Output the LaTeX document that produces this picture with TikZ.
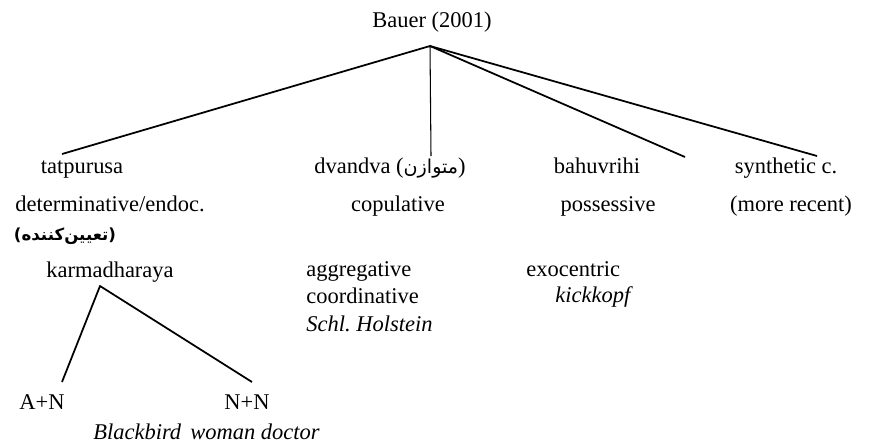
\documentclass[tikz,border=0pt]{standalone}
\usepackage{fontspec}
\setmainfont{Liberation Serif}
\newfontfamily\farsifont[Script=Arabic,Scale=0.85]{DejaVu Sans}
\newfontfamily\farsismall[Script=Arabic,Scale=0.74]{DejaVu Sans}
\newfontfamily\parenfont[Scale=0.74]{DejaVu Sans}
\TeXXeTstate=1

\begin{document}
\frenchspacing
\begin{tikzpicture}[x=0.02cm,y=-0.02cm,join=round, % compound classes tree
        every node/.style={inner sep=0pt,font=\fontsize{12.8}{15}\selectfont},
        lbl/.style={anchor=base},
        lft/.style={anchor=base west},
        example/.style={anchor=base west,font=\fontsize{12.8}{15}\selectfont\itshape},
        branch/.style={line width=1pt}]
        \useasboundingbox (0,0) rectangle (874,444);
        \node[lbl] (bauer) at (432,27) {Bauer (2001)};
        \coordinate (top) at (430,46);
        \node[lbl] (tatpurusa) at (82,173) {tatpurusa};
        \node[lbl] (dvandva) at (390,173) {dvandva ({\farsifont\beginR متوازن\endR})};
        \node[lbl] (bahuvrihi) at (597,173) {bahuvrihi};
        \node[lbl] (synthetic) at (786,173) {synthetic c.};
        \coordinate (tatpurusa-end) at (62,154);
        \coordinate (dvandva-end) at (431,156);
        \coordinate (bahuvrihi-end) at (685,157);
        \coordinate (synthetic-end) at (817,156);
        \node[lbl] (determinative) at (110,211) {determinative/endoc.};
        \node[lbl] (copulative) at (398,211) {copulative};
        \node[lbl] (possessive) at (608,211) {possessive};
        \node[lbl] (recent) at (791,211) {(more recent)};
        \node[lbl] (farsi) at (65,240) {\bfseries{\parenfont(}{\farsismall\beginR تعیین‌کننده\endR}{\parenfont)}};
        \node[lbl] (karmadharaya) at (110,277) {karmadharaya};
        \node[lft] (aggregative) at (306,276) {aggregative};
        \node[lft] (coordinative) at (306,303) {coordinative};
        \node[example] (holstein) at (306,331) {Schl. Holstein};
        \node[lft] (exocentric) at (526,276) {exocentric};
        \node[example] (kickkopf) at (555,302) {kickkopf};
        \coordinate (karma-top) at (100,286);
        \coordinate (an-end) at (62,382);
        \coordinate (nn-end) at (252,382);
        \node[lbl] (an) at (42,409) {A+N};
        \node[lbl] (nn) at (247,409) {N+N};
        \node[example] (blackbird) at (93,439) {Blackbird};
        \node[example] (doctor) at (190,439) {woman doctor};
        \draw[branch] (top) -- (tatpurusa-end);
        \draw[line width=0.6pt] (top) -- (dvandva-end);
        \draw[branch] (top) -- (bahuvrihi-end);
        \draw[branch] (top) -- (synthetic-end);
        \draw[branch] (an-end) -- (karma-top) -- (nn-end);
\end{tikzpicture}
\end{document}
